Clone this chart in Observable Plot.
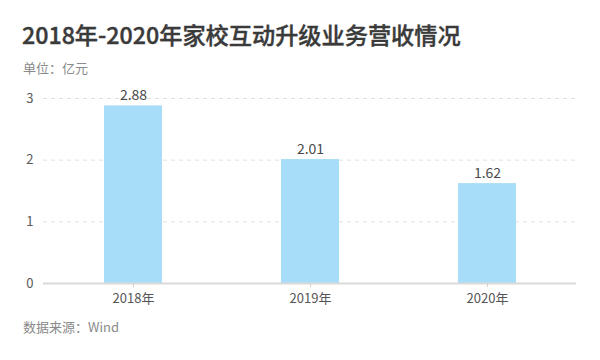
<!DOCTYPE html>
<html>
<head>
<meta charset="utf-8">
<script src="https://cdn.jsdelivr.net/npm/d3@7"></script>
<script src="https://cdn.jsdelivr.net/npm/@observablehq/plot@0.6"></script>
<style>
  html, body { margin: 0; padding: 0; background: #fff; }
  body { width: 600px; height: 360px; position: relative; overflow: hidden; font-family: "Noto Sans CJK SC", "Noto Sans", sans-serif; }
  #title { position: absolute; left: 22px; top: 18px; font-size: 23.2px; font-weight: 500; color: #3a3a3a; line-height: 32px; white-space: nowrap; -webkit-text-stroke: 0.4px #3a3a3a; }
  #subtitle { position: absolute; left: 23px; top: 59px; font-size: 13px; color: #8a8a8a; line-height: 18px; }
  #chart { position: absolute; left: 0; top: 80px; }
  #caption { position: absolute; left: 23px; top: 318px; font-size: 13px; color: #8a8a8a; line-height: 18px; }
</style>
</head>
<body>
<div id="title">2018年-2020年家校互动升级业务营收情况</div>
<div id="subtitle">单位：亿元</div>
<div id="chart"></div>
<div id="caption">数据来源：Wind</div>
<script>
const years = ["2018年", "2019年", "2020年"];
const revenue = [2.88, 2.01, 1.62];
const yTicks = [0, 1, 2, 3];

const data = years.map((y, i) => ({year: y, value: revenue[i]}));

const chart = Plot.plot({
  width: 600,
  height: 232,
  marginLeft: 43,
  marginRight: 24,
  marginTop: 18,
  marginBottom: 29,
  style: {fontFamily: '"Noto Sans CJK SC", "Noto Sans", sans-serif', fontSize: "13px", color: "#555"},
  x: {domain: years, paddingInner: 0.673, paddingOuter: 0.338, label: null},
  y: {domain: [0, 3], ticks: yTicks, label: null},
  marks: [
    Plot.gridY(yTicks.filter(d => d > 0), {stroke: "#e0e0e0", strokeOpacity: 1, strokeDasharray: "4,4"}),
    Plot.barY(data, {x: "year", y: "value", fill: "#a7ddf8"}),
    Plot.ruleY([0], {stroke: "#d9d9d9", strokeWidth: 2}),
    Plot.axisY({ticks: yTicks, tickFormat: "d", tickSize: 0, tickPadding: 10, fontSize: 13, fill: "#5a5a5a", label: null}),
    Plot.axisX({tickSize: 4, stroke: "#d0d0d0", tickPadding: 6, fontSize: 13, fill: "#555", label: null}),
    Plot.text(data, {x: "year", y: "value", text: d => d.value.toFixed(2), dy: -10, fontSize: 14, fill: "#4a4a4a"})
  ]
});
document.getElementById("chart").appendChild(chart);
</script>
</body>
</html>
